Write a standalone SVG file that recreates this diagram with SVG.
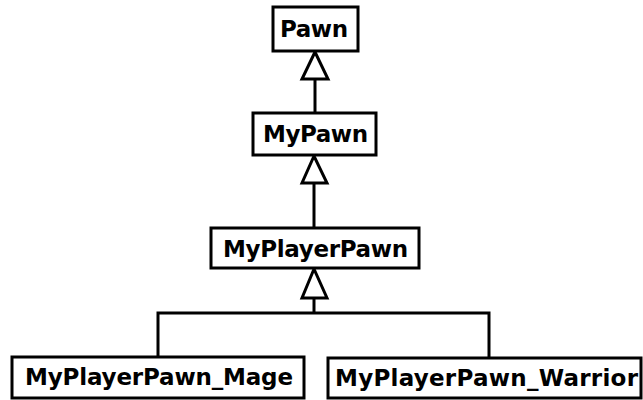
<svg xmlns="http://www.w3.org/2000/svg" width="643" height="400" viewBox="0 0 643 400">
<style>
.box{fill:#fff;stroke:#000;stroke-width:3}
.lbl{font-family:"DejaVu Sans","Liberation Sans",sans-serif;font-weight:bold;font-size:23px;fill:#000;text-anchor:middle}
.ln{fill:none;stroke:#000;stroke-width:3}
.tri{fill:#fff;stroke:#000;stroke-width:3;stroke-linejoin:miter}
</style>
<rect width="643" height="400" fill="#fff"/>
<g id="connectors">
<line class="ln" x1="315" y1="79" x2="315" y2="113"/>
<polygon class="tri" points="315,52 302,79 328,79"/>
<line class="ln" x1="314" y1="183" x2="314" y2="228"/>
<polygon class="tri" points="314,156 302,183 327,183"/>
<polyline class="ln" points="158,357 158,313 489,313 489,358"/>
<line class="ln" x1="314" y1="298" x2="314" y2="313"/>
<polygon class="tri" points="314,269 302,298 327,298"/>
</g>
<g id="Pawn">
<rect class="box" x="273" y="7" width="85" height="44"/>
<text class="lbl" x="314" y="37" textLength="68">Pawn</text>
</g>
<g id="MyPawn">
<rect class="box" x="253" y="113" width="123" height="42"/>
<text class="lbl" x="315.5" y="142" textLength="105">MyPawn</text>
</g>
<g id="MyPlayerPawn">
<rect class="box" x="211" y="228" width="208" height="40"/>
<text class="lbl" x="315.5" y="257" textLength="185">MyPlayerPawn</text>
</g>
<g id="MyPlayerPawn_Mage">
<rect class="box" x="12" y="357" width="292" height="41"/>
<text class="lbl" x="159" y="385" textLength="268">MyPlayerPawn_Mage</text>
</g>
<g id="MyPlayerPawn_Warrior">
<rect class="box" x="328" y="358" width="313" height="40"/>
<text class="lbl" x="486.5" y="386" textLength="303">MyPlayerPawn_Warrior</text>
</g>
</svg>
